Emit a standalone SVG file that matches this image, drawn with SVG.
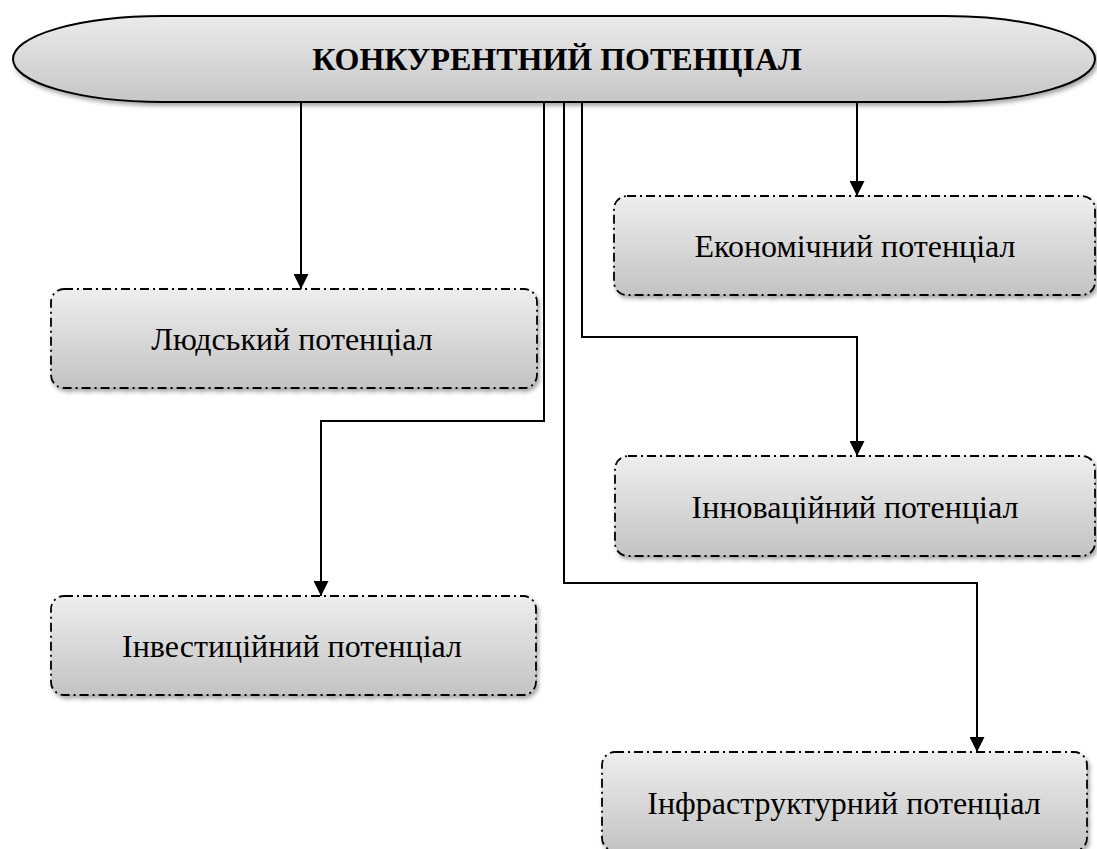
<svg xmlns="http://www.w3.org/2000/svg" width="1097" height="849" viewBox="0 0 1097 849">
  <defs>
    <linearGradient id="gBox" x1="0" y1="0" x2="0" y2="1">
      <stop offset="0" stop-color="#eeeeee"/>
      <stop offset="1" stop-color="#c3c3c3"/>
    </linearGradient>
    <linearGradient id="gEll" x1="0" y1="0" x2="0" y2="1">
      <stop offset="0" stop-color="#ebebeb"/>
      <stop offset="1" stop-color="#c6c6c6"/>
    </linearGradient>
    <filter id="shadow" x="-5%" y="-10%" width="112%" height="130%">
      <feDropShadow dx="2" dy="3" stdDeviation="2" flood-color="#000" flood-opacity="0.35"/>
    </filter>
    <marker id="arrow" viewBox="0 0 10 10" refX="10" refY="5" markerWidth="15" markerHeight="15" markerUnits="userSpaceOnUse" orient="auto">
      <path d="M0,0 L10,5 L0,10 z" fill="#000"/>
    </marker>
    <style>
      .box { fill: url(#gBox); stroke: #000; stroke-width: 1.8; stroke-dasharray: 9 4 2 4; filter: url(#shadow); }
      .ell { fill: url(#gEll); stroke: #000; stroke-width: 2; filter: url(#shadow); }
      .lbl { font-family: "Liberation Serif", "Times New Roman", serif; font-size: 32px; fill: #000; text-anchor: middle; }
      .title { font-family: "Liberation Serif", "Times New Roman", serif; font-size: 32px; font-weight: bold; fill: #000; text-anchor: middle; }
      .conn { fill: none; stroke: #000; stroke-width: 2; marker-end: url(#arrow); }
    </style>
  </defs>

  <g id="connectors">
    <path class="conn" d="M301,102 V289"/>
    <path class="conn" d="M857,102 V196"/>
    <path class="conn" d="M582,102 V337 H857 V456"/>
    <path class="conn" d="M544,102 V421 H321 V596"/>
    <path class="conn" d="M564,102 V583 H977 V752"/>
  </g>

  <g id="node-main">
    <rect class="ell" x="13" y="16" width="1082" height="86" rx="150" ry="43"/>
    <text class="title" x="557" y="70">КОНКУРЕНТНИЙ ПОТЕНЦІАЛ</text>
  </g>

  <g id="node-human">
    <rect class="box" x="51" y="289" width="486" height="99" rx="13" ry="13"/>
    <text class="lbl" x="292" y="350">Людський потенціал</text>
  </g>

  <g id="node-economic">
    <rect class="box" x="614" y="196" width="481" height="99" rx="13" ry="13"/>
    <text class="lbl" x="855" y="257">Економічний потенціал</text>
  </g>

  <g id="node-innovation">
    <rect class="box" x="615" y="456" width="480" height="100" rx="13" ry="13"/>
    <text class="lbl" x="855" y="518">Інноваційний потенціал</text>
  </g>

  <g id="node-investment">
    <rect class="box" x="51" y="596" width="485" height="99" rx="13" ry="13"/>
    <text class="lbl" x="292" y="657">Інвестиційний потенціал</text>
  </g>

  <g id="node-infrastructure">
    <rect class="box" x="602" y="752" width="485" height="99" rx="13" ry="13"/>
    <text class="lbl" x="844" y="814">Інфраструктурний потенціал</text>
  </g>
</svg>
